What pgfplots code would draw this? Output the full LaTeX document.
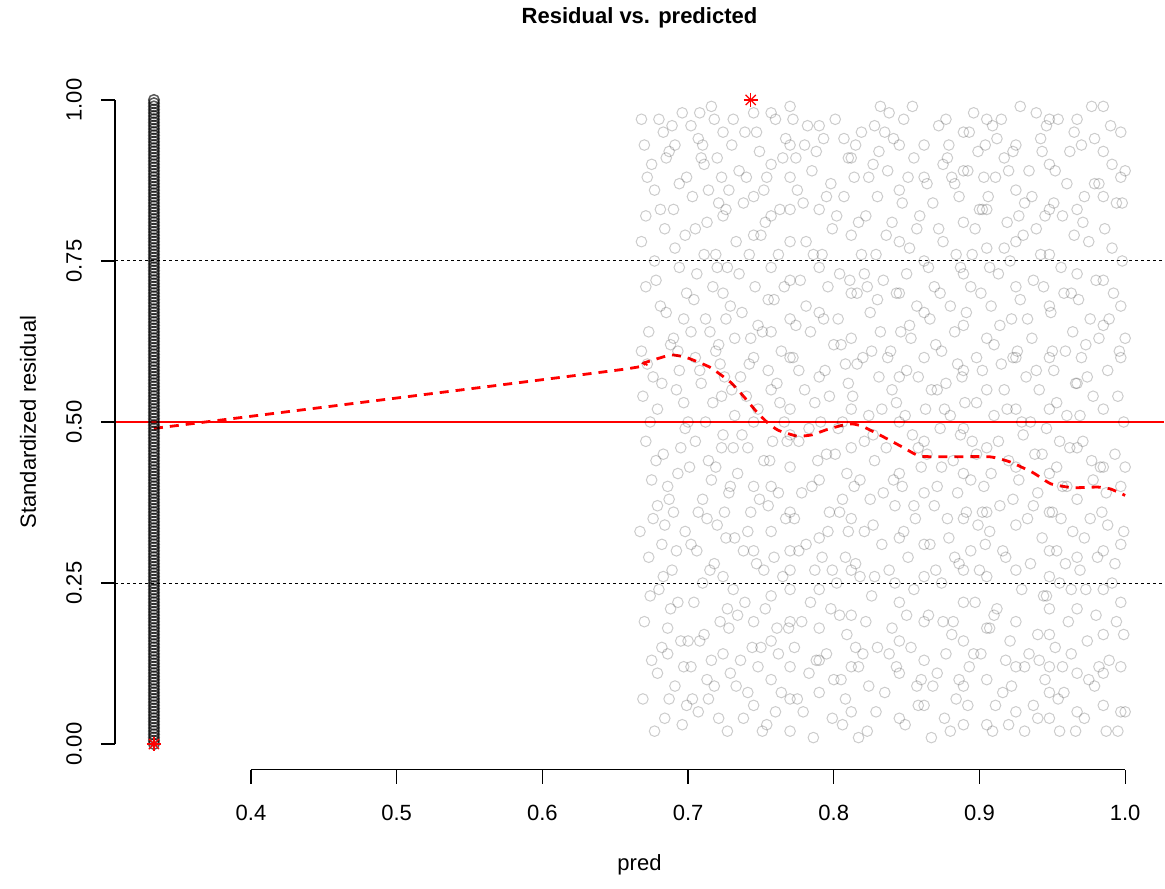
\documentclass[border=0pt]{standalone}
\usepackage{pgfplots}
\pgfplotsset{compat=1.18}
\usepackage{pgfplotstable}
\usepackage{fontspec}
\setmainfont{Liberation Sans}

\pgfplotstableread{
x y
0.668 0.78
0.669 0.07
0.671 0.47
0.672 0.59
0.670 0.93
0.674 0.23
0.676 0.35
0.673 0.64
0.675 0.13
0.677 0.86
0.679 0.52
0.680 0.97
0.682 0.31
0.678 0.72
0.684 0.04
0.683 0.45
0.685 0.91
0.686 0.18
0.688 0.62
0.687 0.38
0.690 0.83
0.689 0.27
0.692 0.55
0.691 0.09
0.694 0.74
0.693 0.42
0.696 0.98
0.695 0.16
0.697 0.66
0.698 0.33
0.699 0.88
0.700 0.50
0.671 0.82
0.673 0.29
0.676 0.57
0.679 0.11
0.681 0.68
0.683 0.95
0.686 0.40
0.688 0.21
0.691 0.77
0.693 0.61
0.696 0.03
0.698 0.49
0.675 0.41
0.669 0.54
0.680 0.24
0.684 0.80
0.690 0.36
0.697 0.12
0.682 0.15
0.687 0.92
0.694 0.58
0.699 0.70
0.702 0.96
0.702 0.64
0.702 0.31
0.702 0.12
0.703 0.85
0.705 0.47
0.704 0.22
0.706 0.73
0.707 0.05
0.708 0.58
0.709 0.91
0.710 0.38
0.711 0.17
0.712 0.66
0.713 0.81
0.714 0.44
0.715 0.27
0.716 0.99
0.717 0.53
0.718 0.09
0.719 0.76
0.720 0.34
0.721 0.62
0.722 0.19
0.723 0.88
0.724 0.95
0.724 0.70
0.724 0.48
0.724 0.26
0.724 0.14
0.725 0.57
0.726 0.83
0.727 0.02
0.728 0.39
0.729 0.68
0.730 0.93
0.731 0.24
0.732 0.51
0.733 0.78
0.706 0.30
0.709 0.56
0.711 0.90
0.714 0.07
0.716 0.41
0.719 0.61
0.721 0.84
0.726 0.32
0.729 0.11
0.731 0.46
0.704 0.69
0.713 0.35
0.718 0.97
0.723 0.54
0.728 0.86
0.708 0.16
0.720 0.74
0.732 0.63
0.710 0.93
0.715 0.64
0.727 0.21
0.734 0.42
0.735 0.89
0.736 0.13
0.737 0.67
0.738 0.30
0.739 0.95
0.740 0.54
0.741 0.08
0.742 0.76
0.743 0.36
0.745 0.98
0.745 0.85
0.745 0.60
0.745 0.40
0.745 0.19
0.745 0.06
0.746 0.71
0.747 0.28
0.748 0.52
0.749 0.92
0.750 0.15
0.751 0.64
0.752 0.44
0.753 0.81
0.754 0.03
0.755 0.58
0.757 0.90
0.757 0.74
0.757 0.55
0.757 0.33
0.757 0.23
0.757 0.10
0.758 0.47
0.759 0.69
0.760 0.97
0.761 0.18
0.762 0.39
0.763 0.83
0.764 0.61
0.765 0.26
0.766 0.50
0.767 0.94
0.736 0.57
0.739 0.22
0.741 0.46
0.743 0.63
0.748 0.12
0.750 0.79
0.752 0.27
0.755 0.37
0.760 0.05
0.763 0.53
0.766 0.71
0.738 0.84
0.754 0.88
0.762 0.14
0.770 0.99
0.770 0.88
0.770 0.78
0.770 0.66
0.770 0.52
0.770 0.43
0.770 0.30
0.770 0.24
0.770 0.12
0.770 0.02
0.772 0.60
0.773 0.35
0.774 0.91
0.775 0.07
0.776 0.47
0.777 0.72
0.778 0.19
0.779 0.84
0.780 0.55
0.781 0.31
0.782 0.96
0.783 0.11
0.784 0.64
0.785 0.40
0.786 0.76
0.787 0.27
0.788 0.92
0.790 0.83
0.790 0.67
0.790 0.41
0.790 0.18
0.790 0.08
0.791 0.50
0.792 0.29
0.793 0.94
0.794 0.58
0.795 0.14
0.796 0.71
0.797 0.36
0.798 0.87
0.799 0.04
0.800 0.62
0.775 0.86
0.778 0.39
0.781 0.68
0.784 0.22
0.787 0.53
0.792 0.76
0.795 0.45
0.798 0.21
0.773 0.15
0.780 0.93
0.786 0.01
0.796 0.33
0.799 0.80
0.776 0.58
0.789 0.44
0.801 0.97
0.802 0.25
0.803 0.49
0.804 0.73
0.805 0.10
0.806 0.38
0.807 0.85
0.808 0.59
0.809 0.17
0.810 0.91
0.812 0.79
0.812 0.63
0.812 0.46
0.812 0.35
0.812 0.20
0.812 0.05
0.813 0.54
0.814 0.88
0.815 0.28
0.816 0.70
0.817 0.12
0.818 0.41
0.819 0.95
0.820 0.60
0.821 0.33
0.822 0.82
0.823 0.02
0.824 0.51
0.825 0.67
0.826 0.23
0.827 0.90
0.828 0.44
0.829 0.76
0.830 0.15
0.831 0.57
0.832 0.99
0.833 0.31
0.803 0.66
0.806 0.03
0.809 0.42
0.815 0.93
0.818 0.26
0.821 0.73
0.824 0.09
0.827 0.48
0.830 0.85
0.804 0.36
0.810 0.56
0.817 0.81
0.825 0.38
0.832 0.64
0.808 0.29
0.820 0.14
0.828 0.96
0.834 0.72
0.835 0.08
0.836 0.46
0.837 0.89
0.838 0.27
0.839 0.61
0.840 0.18
0.841 0.94
0.842 0.37
0.843 0.53
0.845 0.86
0.845 0.70
0.845 0.50
0.845 0.32
0.845 0.22
0.845 0.11
0.846 0.64
0.847 0.40
0.848 0.97
0.849 0.03
0.850 0.58
0.851 0.29
0.852 0.77
0.853 0.15
0.854 0.48
0.855 0.91
0.856 0.35
0.857 0.68
0.858 0.06
0.859 0.82
0.860 0.43
0.862 0.93
0.862 0.75
0.862 0.60
0.862 0.39
0.862 0.26
0.862 0.13
0.863 0.52
0.864 0.87
0.865 0.20
0.866 0.66
0.867 0.01
0.836 0.79
0.840 0.55
0.843 0.12
0.848 0.33
0.851 0.88
0.855 0.24
0.858 0.57
0.864 0.45
0.838 0.98
0.850 0.73
0.857 0.09
0.841 0.41
0.853 0.63
0.866 0.31
0.868 0.84
0.869 0.37
0.870 0.62
0.871 0.11
0.872 0.96
0.873 0.49
0.874 0.25
0.875 0.78
0.876 0.04
0.877 0.56
0.878 0.91
0.879 0.32
0.880 0.68
0.881 0.17
0.882 0.44
0.883 0.87
0.884 0.07
0.885 0.59
0.886 0.28
0.887 0.74
0.889 0.95
0.889 0.81
0.889 0.65
0.889 0.42
0.889 0.27
0.889 0.16
0.889 0.03
0.890 0.53
0.891 0.36
0.892 0.89
0.893 0.12
0.894 0.71
0.895 0.47
0.896 0.98
0.897 0.22
0.898 0.60
0.899 0.34
0.900 0.83
0.870 0.27
0.873 0.70
0.876 0.52
0.879 0.93
0.882 0.19
0.885 0.39
0.888 0.57
0.892 0.06
0.895 0.76
0.898 0.45
0.871 0.55
0.877 0.14
0.883 0.64
0.894 0.30
0.899 0.92
0.874 0.43
0.886 0.85
0.901 0.14
0.902 0.58
0.903 0.40
0.904 0.93
0.905 0.77
0.905 0.63
0.905 0.46
0.905 0.26
0.905 0.10
0.906 0.85
0.907 0.33
0.908 0.68
0.909 0.02
0.910 0.51
0.911 0.88
0.912 0.21
0.913 0.73
0.914 0.37
0.915 0.97
0.916 0.08
0.917 0.55
0.918 0.29
0.919 0.81
0.920 0.44
0.921 0.16
0.922 0.66
0.923 0.92
0.925 0.86
0.925 0.71
0.925 0.52
0.925 0.34
0.925 0.19
0.925 0.05
0.926 0.61
0.927 0.41
0.928 0.99
0.929 0.24
0.930 0.79
0.931 0.12
0.932 0.57
0.933 0.35
0.902 0.83
0.907 0.18
0.910 0.62
0.913 0.47
0.917 0.91
0.920 0.03
0.923 0.38
0.928 0.69
0.931 0.84
0.904 0.31
0.915 0.59
0.921 0.75
0.909 0.96
0.918 0.13
0.930 0.48
0.934 0.89
0.935 0.28
0.936 0.63
0.937 0.06
0.938 0.45
0.939 0.80
0.940 0.17
0.941 0.55
0.942 0.94
0.943 0.32
0.944 0.71
0.945 0.10
0.946 0.49
0.948 0.90
0.948 0.76
0.948 0.60
0.948 0.42
0.948 0.30
0.948 0.21
0.948 0.12
0.948 0.04
0.949 0.67
0.950 0.36
0.951 0.84
0.952 0.15
0.953 0.53
0.954 0.97
0.955 0.25
0.956 0.74
0.957 0.40
0.958 0.08
0.959 0.61
0.960 0.87
0.961 0.19
0.962 0.46
0.963 0.70
0.964 0.33
0.965 0.95
0.966 0.02
0.937 0.72
0.940 0.39
0.943 0.92
0.946 0.23
0.951 0.58
0.954 0.07
0.957 0.82
0.960 0.51
0.963 0.14
0.935 0.50
0.941 0.13
0.945 0.82
0.953 0.43
0.959 0.28
0.964 0.64
0.939 0.98
0.956 0.35
0.967 0.83
0.967 0.56
0.967 0.38
0.967 0.21
0.967 0.11
0.968 0.69
0.969 0.27
0.970 0.93
0.971 0.47
0.972 0.04
0.973 0.62
0.974 0.16
0.975 0.78
0.976 0.35
0.977 0.99
0.978 0.54
0.979 0.09
0.980 0.72
0.981 0.29
0.982 0.87
0.983 0.43
0.985 0.92
0.985 0.65
0.985 0.52
0.985 0.30
0.985 0.17
0.985 0.06
0.986 0.80
0.987 0.39
0.988 0.58
0.989 0.13
0.990 0.96
0.991 0.25
0.992 0.70
0.993 0.45
0.994 0.84
0.995 0.02
0.996 0.61
0.997 0.88
0.997 0.60
0.997 0.40
0.997 0.22
0.997 0.12
0.998 0.75
0.999 0.33
1.000 0.05
1.000 0.89
0.970 0.60
0.973 0.24
0.976 0.66
0.979 0.94
0.982 0.12
0.988 0.34
0.991 0.77
0.994 0.19
0.999 0.50
0.972 0.85
0.978 0.41
}\scatterdata

\pgfplotstableread{
x y
0.667 0.33
0.668 0.61
0.670 0.19
0.672 0.88
0.674 0.50
0.677 0.02
0.678 0.44
0.681 0.83
0.683 0.26
0.685 0.67
0.687 0.07
0.689 0.96
0.692 0.30
0.694 0.87
0.695 0.46
0.698 0.79
0.700 0.16
0.668 0.97
0.671 0.71
0.675 0.90
0.679 0.37
0.682 0.56
0.686 0.14
0.690 0.63
0.693 0.22
0.697 0.53
0.699 0.06
0.684 0.34
0.677 0.75
0.691 0.93
0.701 0.43
0.703 0.07
0.705 0.80
0.707 0.36
0.708 0.98
0.710 0.25
0.712 0.50
0.714 0.86
0.716 0.13
0.717 0.71
0.719 0.43
0.721 0.04
0.722 0.59
0.724 0.82
0.725 0.36
0.726 0.66
0.728 0.18
0.730 0.55
0.731 0.97
0.733 0.09
0.705 0.60
0.711 0.76
0.713 0.10
0.718 0.28
0.720 0.91
0.723 0.46
0.727 0.74
0.729 0.40
0.732 0.32
0.707 0.94
0.734 0.20
0.735 0.73
0.737 0.48
0.738 0.04
0.740 0.88
0.741 0.33
0.742 0.59
0.744 0.15
0.745 0.79
0.745 0.50
0.745 0.30
0.747 0.95
0.748 0.65
0.749 0.38
0.751 0.02
0.752 0.86
0.753 0.21
0.755 0.69
0.756 0.44
0.757 0.98
0.757 0.82
0.757 0.64
0.757 0.40
0.757 0.16
0.759 0.29
0.761 0.56
0.762 0.76
0.764 0.08
0.765 0.91
0.767 0.35
0.768 0.47
0.769 0.18
0.770 0.93
0.770 0.83
0.770 0.72
0.770 0.60
0.770 0.48
0.770 0.36
0.770 0.27
0.770 0.19
0.770 0.07
0.772 0.97
0.774 0.65
0.776 0.30
0.779 0.05
0.781 0.78
0.783 0.49
0.785 0.89
0.788 0.13
0.790 0.96
0.790 0.74
0.790 0.57
0.790 0.32
0.790 0.24
0.790 0.13
0.793 0.66
0.795 0.85
0.797 0.54
0.799 0.27
0.800 0.10
0.801 0.45
0.802 0.82
0.804 0.20
0.805 0.62
0.807 0.94
0.808 0.07
0.810 0.33
0.811 0.72
0.812 0.91
0.812 0.70
0.812 0.52
0.812 0.27
0.812 0.12
0.814 0.40
0.816 0.59
0.817 0.01
0.819 0.76
0.821 0.47
0.822 0.19
0.824 0.88
0.826 0.61
0.827 0.34
0.829 0.05
0.830 0.69
0.831 0.92
0.833 0.52
0.806 0.50
0.815 0.15
0.823 0.71
0.828 0.26
0.834 0.39
0.835 0.95
0.837 0.60
0.838 0.14
0.840 0.81
0.842 0.25
0.843 0.70
0.845 0.93
0.845 0.78
0.845 0.57
0.845 0.42
0.845 0.16
0.845 0.04
0.847 0.84
0.849 0.51
0.850 0.20
0.852 0.65
0.854 0.99
0.855 0.37
0.857 0.80
0.858 0.46
0.860 0.10
0.862 0.88
0.862 0.67
0.862 0.47
0.862 0.31
0.862 0.19
0.862 0.06
0.865 0.74
0.867 0.55
0.868 0.09
0.869 0.71
0.871 0.40
0.872 0.80
0.874 0.61
0.875 0.19
0.877 0.97
0.878 0.35
0.880 0.51
0.881 0.88
0.883 0.29
0.884 0.76
0.886 0.10
0.887 0.48
0.889 0.89
0.889 0.73
0.889 0.58
0.889 0.49
0.889 0.35
0.889 0.22
0.889 0.09
0.891 0.67
0.893 0.95
0.894 0.41
0.896 0.14
0.897 0.80
0.898 0.53
0.900 0.27
0.880 0.02
0.875 0.90
0.901 0.70
0.902 0.36
0.903 0.88
0.905 0.97
0.905 0.83
0.905 0.55
0.905 0.36
0.905 0.18
0.905 0.03
0.907 0.74
0.908 0.42
0.910 0.20
0.911 0.06
0.912 0.94
0.914 0.65
0.916 0.30
0.917 0.77
0.919 0.52
0.920 0.89
0.922 0.09
0.923 0.60
0.925 0.93
0.925 0.78
0.925 0.60
0.925 0.43
0.925 0.27
0.925 0.12
0.927 0.82
0.929 0.50
0.931 0.02
0.933 0.66
0.934 0.14
0.936 0.85
0.937 0.37
0.939 0.58
0.940 0.04
0.942 0.76
0.943 0.45
0.944 0.23
0.946 0.96
0.948 0.97
0.948 0.83
0.948 0.68
0.948 0.52
0.948 0.36
0.948 0.26
0.948 0.17
0.948 0.08
0.950 0.61
0.952 0.89
0.953 0.30
0.955 0.47
0.957 0.12
0.958 0.70
0.960 0.40
0.962 0.92
0.963 0.24
0.965 0.79
0.966 0.56
0.955 0.02
0.967 0.97
0.967 0.73
0.967 0.46
0.967 0.29
0.967 0.05
0.969 0.51
0.971 0.81
0.972 0.32
0.974 0.57
0.975 0.10
0.977 0.44
0.979 0.87
0.980 0.20
0.982 0.63
0.984 0.36
0.985 0.99
0.985 0.85
0.985 0.72
0.985 0.43
0.985 0.24
0.985 0.11
0.987 0.02
0.989 0.66
0.991 0.90
0.993 0.28
0.995 0.54
0.997 0.95
0.997 0.68
0.997 0.31
0.997 0.05
1.000 0.43
1.000 0.63
0.999 0.17
0.998 0.84
}\scatterdatab

\pgfplotstableread{
x y
0.3334 0.000
0.3334 0.005
0.3334 0.010
0.3334 0.015
0.3334 0.020
0.3334 0.025
0.3334 0.030
0.3334 0.035
0.3334 0.040
0.3334 0.045
0.3334 0.050
0.3334 0.055
0.3334 0.060
0.3334 0.065
0.3334 0.070
0.3334 0.075
0.3334 0.080
0.3334 0.085
0.3334 0.090
0.3334 0.095
0.3334 0.100
0.3334 0.105
0.3334 0.110
0.3334 0.115
0.3334 0.120
0.3334 0.125
0.3334 0.130
0.3334 0.135
0.3334 0.140
0.3334 0.145
0.3334 0.150
0.3334 0.155
0.3334 0.160
0.3334 0.165
0.3334 0.170
0.3334 0.175
0.3334 0.180
0.3334 0.185
0.3334 0.190
0.3334 0.195
0.3334 0.200
0.3334 0.205
0.3334 0.210
0.3334 0.215
0.3334 0.220
0.3334 0.225
0.3334 0.230
0.3334 0.235
0.3334 0.240
0.3334 0.245
0.3334 0.250
0.3334 0.255
0.3334 0.260
0.3334 0.265
0.3334 0.270
0.3334 0.275
0.3334 0.280
0.3334 0.285
0.3334 0.290
0.3334 0.295
0.3334 0.300
0.3334 0.305
0.3334 0.310
0.3334 0.315
0.3334 0.320
0.3334 0.325
0.3334 0.330
0.3334 0.335
0.3334 0.340
0.3334 0.345
0.3334 0.350
0.3334 0.355
0.3334 0.360
0.3334 0.365
0.3334 0.370
0.3334 0.375
0.3334 0.380
0.3334 0.385
0.3334 0.390
0.3334 0.395
0.3334 0.400
0.3334 0.405
0.3334 0.410
0.3334 0.415
0.3334 0.420
0.3334 0.425
0.3334 0.430
0.3334 0.435
0.3334 0.440
0.3334 0.445
0.3334 0.450
0.3334 0.455
0.3334 0.460
0.3334 0.465
0.3334 0.470
0.3334 0.475
0.3334 0.480
0.3334 0.485
0.3334 0.490
0.3334 0.495
0.3334 0.500
0.3334 0.505
0.3334 0.510
0.3334 0.515
0.3334 0.520
0.3334 0.525
0.3334 0.530
0.3334 0.535
0.3334 0.540
0.3334 0.545
0.3334 0.550
0.3334 0.555
0.3334 0.560
0.3334 0.565
0.3334 0.570
0.3334 0.575
0.3334 0.580
0.3334 0.585
0.3334 0.590
0.3334 0.595
0.3334 0.600
0.3334 0.605
0.3334 0.610
0.3334 0.615
0.3334 0.620
0.3334 0.625
0.3334 0.630
0.3334 0.635
0.3334 0.640
0.3334 0.645
0.3334 0.650
0.3334 0.655
0.3334 0.660
0.3334 0.665
0.3334 0.670
0.3334 0.675
0.3334 0.680
0.3334 0.685
0.3334 0.690
0.3334 0.695
0.3334 0.700
0.3334 0.705
0.3334 0.710
0.3334 0.715
0.3334 0.720
0.3334 0.725
0.3334 0.730
0.3334 0.735
0.3334 0.740
0.3334 0.745
0.3334 0.750
0.3334 0.755
0.3334 0.760
0.3334 0.765
0.3334 0.770
0.3334 0.775
0.3334 0.780
0.3334 0.785
0.3334 0.790
0.3334 0.795
0.3334 0.800
0.3334 0.805
0.3334 0.810
0.3334 0.815
0.3334 0.820
0.3334 0.825
0.3334 0.830
0.3334 0.835
0.3334 0.840
0.3334 0.845
0.3334 0.850
0.3334 0.855
0.3334 0.860
0.3334 0.865
0.3334 0.870
0.3334 0.875
0.3334 0.880
0.3334 0.885
0.3334 0.890
0.3334 0.895
0.3334 0.900
0.3334 0.905
0.3334 0.910
0.3334 0.915
0.3334 0.920
0.3334 0.925
0.3334 0.930
0.3334 0.935
0.3334 0.940
0.3334 0.945
0.3334 0.950
0.3334 0.955
0.3334 0.960
0.3334 0.965
0.3334 0.970
0.3334 0.975
0.3334 0.980
0.3334 0.985
0.3334 0.990
0.3334 0.995
0.3334 1.000
}\columndata

\begin{document}
\begin{tikzpicture}
\path[use as bounding box] (0,0) rectangle (582.5pt,444pt);
\begin{axis}[
  at={(57.5pt,59.1pt)}, anchor=south west,
  scale only axis, width=524.5pt, height=347.8pt,
  xmin=0.30667, xmax=1.02667, ymin=-0.04, ymax=1.04,
  clip=false,
  axis line style={draw=none},
  tick align=outside,
  xtick pos=bottom, ytick pos=left,
  major tick length=7pt,
  tick style={black, line width=0.6pt},
  xtick={0.4,0.5,0.6,0.7,0.8,0.9,1.0},
  xticklabels={0.4,0.5,0.6,0.7,0.8,0.9,1.0},
  ytick={0,0.25,0.5,0.75,1},
  yticklabels={0.00,0.25,0.50,0.75,1.00},
  ticklabel style={font=\fontsize{11}{13}\selectfont},
  xticklabel style={yshift=-7pt},
  yticklabel style={rotate=90, anchor=south, yshift=6pt},
  /pgf/number format/assume math mode=true,
]
% reference lines
\addplot[black, line width=0.5pt, dash pattern=on 1.5pt off 1.5pt] coordinates {(0.30667,0.25) (1.02667,0.25)};
\addplot[black, line width=0.5pt, dash pattern=on 1.5pt off 1.5pt] coordinates {(0.30667,0.75) (1.02667,0.75)};
% scatter
\addplot[only marks, mark=o, mark size=2.65pt, mark options={draw=black, draw opacity=0.2, line width=0.5pt}] table[x=x,y=y] {\scatterdata};
\addplot[only marks, mark=o, mark size=2.65pt, mark options={draw=black, draw opacity=0.2, line width=0.5pt}] table[x=x,y=y] {\scatterdatab};
\addplot[only marks, mark=o, mark size=2.65pt, mark options={draw=black, draw opacity=0.65, line width=0.75pt}] table[x=x,y=y] {\columndata};
% horizontal red line
\addplot[red, line width=1.4pt] coordinates {(0.30667,0.5) (1.02667,0.5)};
% smoother
\addplot[red, line width=1.4pt, dash pattern=on 4.5pt off 3.5pt, smooth, tension=0.3] coordinates {
(0.3334,0.490) (0.653,0.581) (0.670,0.592) (0.688,0.604) (0.699,0.600) (0.715,0.585) (0.729,0.562) (0.738,0.540) (0.747,0.516) (0.755,0.498) (0.762,0.487) (0.775,0.478) (0.785,0.480) (0.795,0.488) (0.806,0.495) (0.813,0.497) (0.820,0.493) (0.834,0.477) (0.848,0.460) (0.859,0.447) (0.878,0.446) (0.907,0.446) (0.921,0.438) (0.937,0.421) (0.949,0.404) (0.964,0.398) (0.981,0.399) (0.990,0.396) (1.000,0.386)};
% outliers
\addplot[only marks, mark=+, mark size=3.6pt, mark options={draw=red, line width=0.6pt}] coordinates {(0.3334,0) (0.743,1)};
\addplot[only marks, mark=x, mark size=3.6pt, mark options={draw=red, line width=0.6pt}] coordinates {(0.3334,0) (0.743,1)};
% axis lines
\draw[black, line width=0.6pt] (axis cs:0.4,-0.04) -- (axis cs:1.0,-0.04);
\draw[black, line width=0.6pt] (axis cs:0.30667,0) -- (axis cs:0.30667,1);
% titles
\node[font=\fontsize{11}{13}\selectfont\bfseries] at ([yshift=28pt]rel axis cs:0.5,1) {Residual vs. predicted};
\node[font=\fontsize{11}{13}\selectfont] at ([yshift=-47.5pt]rel axis cs:0.5,0) {pred};
\node[font=\fontsize{11}{13}\selectfont, rotate=90] at ([xshift=-43.5pt]axis cs:0.30667,0.5) {Standardized residual};
\end{axis}
\end{tikzpicture}
\end{document}
